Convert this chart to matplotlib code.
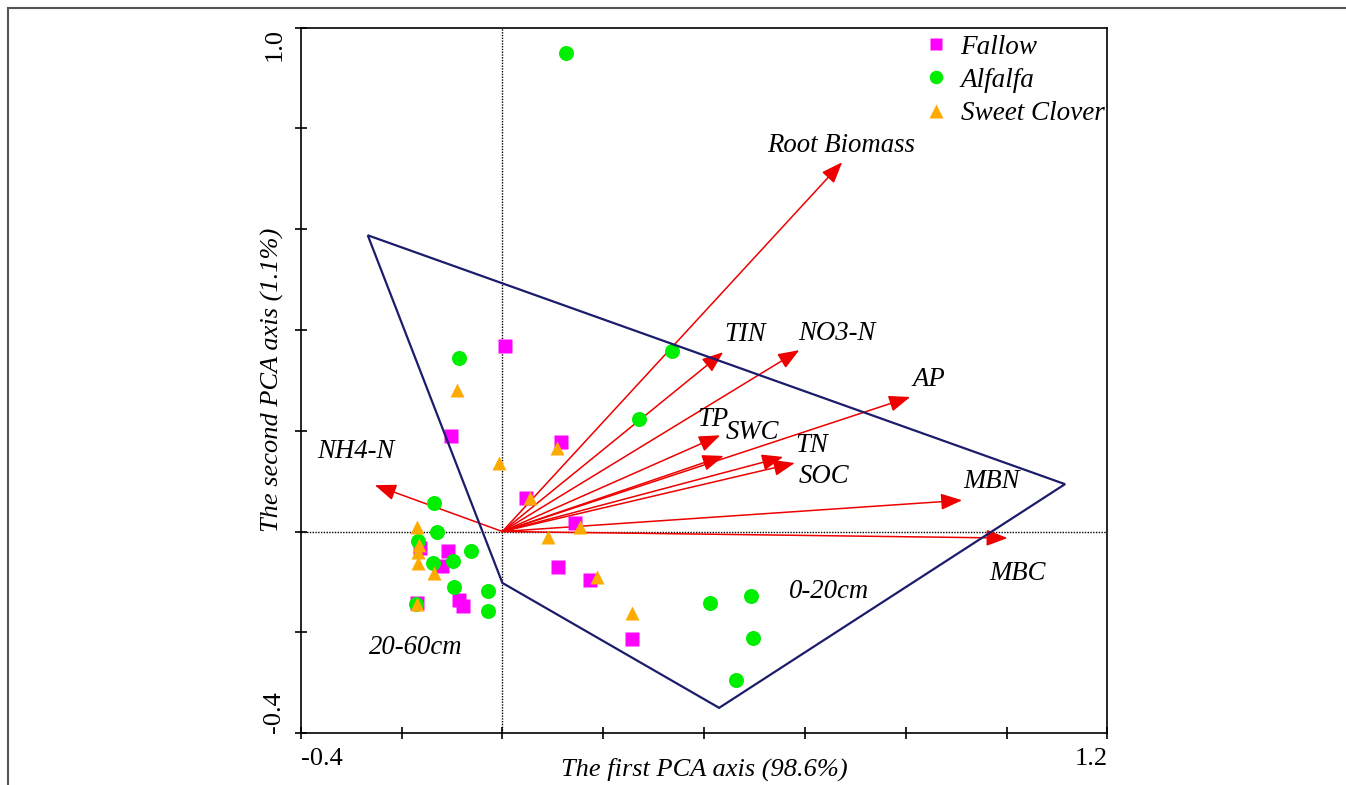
"""PCA biplot: soil properties vs. first two PCA axes."""

import matplotlib.pyplot as plt
import numpy as np
from matplotlib.patches import Rectangle

plt.rcParams["font.family"] = ["Liberation Serif", "DejaVu Serif"]

# sample scores
fallow_x = [0.005, -0.102, 0.116, 0.047, 0.144, 0.111, 0.174, 0.257,
            -0.163, -0.108, -0.120, -0.086, -0.078, -0.169]
fallow_y = [0.368, 0.189, 0.177, 0.066, 0.017, -0.070, -0.096, -0.213,
            -0.033, -0.039, -0.068, -0.135, -0.147, -0.142]

alfalfa_x = [0.126, -0.086, 0.337, 0.271, -0.136, -0.130, -0.167, -0.138, -0.098,
             -0.062, -0.096, -0.028, -0.028, -0.171, 0.412, 0.493, 0.497, 0.463]
alfalfa_y = [0.949, 0.344, 0.358, 0.223, 0.057, -0.001, -0.019, -0.062, -0.059,
             -0.039, -0.110, -0.118, -0.158, -0.144, -0.142, -0.128, -0.211, -0.295]

clover_x = [-0.090, -0.007, 0.109, 0.055, 0.154, 0.091, 0.188, 0.257,
            -0.170, -0.165, -0.167, -0.167, -0.136, -0.169]
clover_y = [0.281, 0.136, 0.166, 0.066, 0.009, -0.011, -0.090, -0.162,
            0.009, -0.027, -0.041, -0.063, -0.082, -0.144]

# variable loadings
variables = ["Root Biomass", "TIN", "NO3-N", "AP", "TP", "SWC",
             "TN", "SOC", "MBN", "MBC", "NH4-N"]
load_x = [0.674, 0.438, 0.589, 0.809, 0.432, 0.439, 0.557, 0.580, 0.912, 1.002, -0.253]
load_y = [0.733, 0.356, 0.360, 0.267, 0.191, 0.150, 0.148, 0.136, 0.062, -0.013, 0.092]
label_pos = [(0.671, 0.767), (0.481, 0.392), (0.664, 0.394), (0.845, 0.301),
             (0.418, 0.223), (0.497, 0.197), (0.614, 0.170), (0.637, 0.110),
             (0.971, 0.100), (1.021, -0.084), (-0.290, 0.158)]

# outline around the samples
hull_x = [-0.267, 1.116, 0.430, 0.0]
hull_y = [0.588, 0.094, -0.350, -0.102]

fig = plt.figure(figsize=(13.46, 7.85), dpi=100)
ax = fig.add_axes([0.2234, 0.0662, 0.5993, 0.8985])

ax.axvline(0, color="black", ls=(0, (1, 1)), lw=1.0, zorder=1)
ax.axhline(0, color="black", ls=(0, (1, 1)), lw=1.0, zorder=1)

for name, tx, ty, (lx, ly) in zip(variables, load_x, load_y, label_pos):
    ax.annotate("", xy=(tx, ty), xytext=(0, 0),
                arrowprops=dict(arrowstyle="-|>,head_length=0.65,head_width=0.25",
                                color="#ee0000", lw=1.1, mutation_scale=20,
                                shrinkA=0, shrinkB=0), zorder=2)
    ax.text(lx, ly, name, style="italic", fontsize=19.3, ha="center", va="center")

ax.plot(fallow_x, fallow_y, "s", color="#ff00ff", ms=9.6, mec="none", label="Fallow", zorder=3)
ax.plot(alfalfa_x, alfalfa_y, "o", color="#00ee00", ms=10.8, mec="none", label="Alfalfa", zorder=3)
ax.plot(clover_x, clover_y, "^", color="#ffaa00", ms=10.6, mec="none", label="Sweet Clover", zorder=3)

ax.fill(hull_x, hull_y, fill=False, edgecolor="#1c1c6c", lw=1.6, zorder=4)

ax.text(0.648, -0.120, "0-20cm", style="italic", fontsize=19.3, ha="center", va="center")
ax.text(-0.171, -0.231, "20-60cm", style="italic", fontsize=19.3, ha="center", va="center")

ax.set_xlim(-0.4, 1.2)
ax.set_ylim(-0.4, 1.0)
xt = np.round(np.arange(-0.4, 1.21, 0.2), 1)
yt = np.round(np.arange(-0.4, 1.01, 0.2), 1)
ax.set_xticks(xt, ["-0.4"] + [""] * (len(xt) - 2) + ["1.2"])
ax.set_yticks(yt, ["-0.4"] + [""] * (len(yt) - 2) + ["1.0"])
ax.tick_params(direction="inout", length=8, width=1.2, labelsize=19, pad=7,
               top=False, right=False)
xl = ax.get_xticklabels()
xl[0].set_ha("left")
xl[-1].set_ha("right")
for lab in ax.get_yticklabels():
    lab.set_rotation(90)
yl = ax.get_yticklabels()
yl[0].set_va("bottom")
yl[-1].set_va("top")
for s in ax.spines.values():
    s.set_linewidth(1.2)

ax.set_xlabel("The first PCA axis (98.6%)", style="italic", fontsize=19, va="top")
ax.xaxis.set_label_coords(0.5, -0.035)
ax.set_ylabel("The second PCA axis (1.1%)", style="italic", fontsize=19)
ax.yaxis.set_label_coords(-0.021, 0.5)

leg = ax.legend(loc="upper left", bbox_to_anchor=(0.771, 0.99), frameon=False,
                fontsize=19.5, handlelength=1.0, handletextpad=0.4, labelspacing=0.3,
                borderpad=0, borderaxespad=0, markerscale=0.9)
for t in leg.get_texts():
    t.set_style("italic")

fig.patches.append(Rectangle((8 / 1346, -0.1), 1.2, 1.1 - 8 / 785, transform=fig.transFigure,
                             fill=False, edgecolor="#555555", lw=1.5))

fig.savefig("out.png", dpi=100)
